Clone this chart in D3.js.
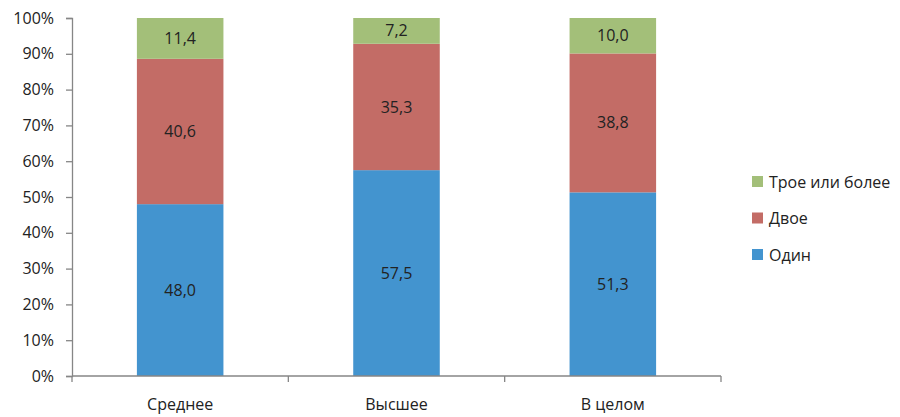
<!DOCTYPE html>
<html><head><meta charset="utf-8">
<script src="https://cdn.jsdelivr.net/npm/d3@7"></script>
<style>body{margin:0;background:#fff;} text{font-family:"Open Sans","Noto Sans",sans-serif;fill:#222;}</style>
</head><body><svg id="c" width="900" height="417"></svg>
<script>
const categories = ["Среднее", "Высшее", "В целом"];
const seriesNames = ["Один", "Двое", "Трое или более"];
const odin = [48.0, 57.5, 51.3];
const dvoe = [40.6, 35.3, 38.8];
const troe = [11.4, 7.2, 10.0];
const yTicks = [0, 10, 20, 30, 40, 50, 60, 70, 80, 90, 100];
const colors = ["#4394cf", "#c36c66", "#a3bf79"];

const svg = d3.select("#c");
const m = {l: 72, r: 179, t: 18, b: 41};
const W = 900, H = 417;
const x = d3.scaleBand().domain(categories).range([m.l, W - m.r]).paddingInner(0.6).paddingOuter(0.3);
const xb = d3.scaleBand().domain(categories).range([m.l, W - m.r]);
const y = d3.scaleLinear().domain([0, 100]).range([H - m.b, m.t]);

const rows = categories.map((c, i) => ({cat: c, "Один": odin[i], "Двое": dvoe[i], "Трое или более": troe[i]}));
const stack = d3.stack().keys(seriesNames)(rows);

const g = svg.append("g");
stack.forEach((s, si) => {
  s.forEach(d => {
    const v = d[1] - d[0];
    const top = Math.min(100, d[1]);
    g.append("rect").attr("x", x(d.data.cat)).attr("width", x.bandwidth())
      .attr("y", y(top)).attr("height", y(d[0]) - y(top)).attr("fill", colors[si]);
    g.append("text").attr("x", x(d.data.cat) + x.bandwidth() / 2)
      .attr("y", (y(d[0]) + y(top)) / 2).attr("dy", "0.35em")
      .attr("text-anchor", "middle").attr("font-size", 16)
      .text(d3.format(".1f")(v).replace(".", ","));
  });
});

// y axis
const ya = svg.append("g").attr("transform", `translate(${m.l},0)`)
  .call(d3.axisLeft(y).tickValues(yTicks).tickSize(6).tickPadding(12).tickFormat(d => d + "%"));
ya.select(".domain").attr("stroke", "#868686").attr("stroke-width", 1.3);
ya.selectAll(".tick line").attr("stroke", "#868686").attr("stroke-width", 1.3);
ya.selectAll("text").attr("font-size", 16).style("font-family", "'Open Sans',sans-serif").attr("fill", "#222");

// x axis
const xa = svg.append("g").attr("transform", `translate(0,${H - m.b})`);
xa.append("line").attr("x1", m.l).attr("x2", W - m.r).attr("stroke", "#868686").attr("stroke-width", 1.3);
const bounds = categories.map(c => xb(c)).concat([xb(categories[categories.length - 1]) + xb.bandwidth()]);
xa.selectAll("line.t").data(bounds).join("line").attr("class", "t")
  .attr("x1", d => d).attr("x2", d => d).attr("y1", 0).attr("y2", 6)
  .attr("stroke", "#868686").attr("stroke-width", 1.3);
xa.selectAll("text").data(categories).join("text")
  .attr("x", d => x(d) + x.bandwidth() / 2).attr("y", 34)
  .attr("text-anchor", "middle").attr("font-size", 16).text(d => d);

// legend
const legendOrder = [2, 1, 0];
const lg = svg.append("g");
legendOrder.forEach((si, i) => {
  const ly = 182 + i * 36.5;
  lg.append("rect").attr("x", 752).attr("y", ly - 6).attr("width", 11).attr("height", 11).attr("fill", colors[si]);
  lg.append("text").attr("x", 769).attr("y", ly).attr("dy", "0.35em").attr("font-size", 16).text(seriesNames[si]);
});
</script></body></html>
